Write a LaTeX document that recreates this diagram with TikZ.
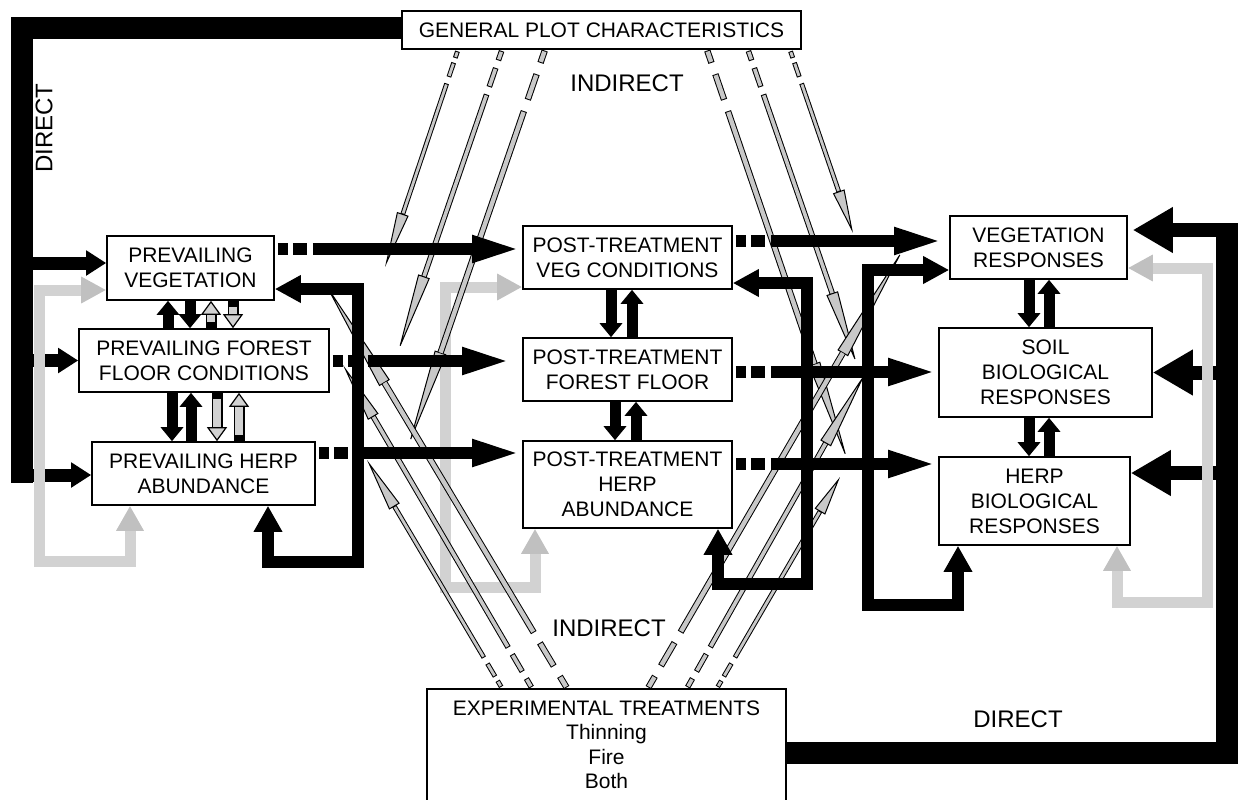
\documentclass[tikz,border=0pt]{standalone}
\usepackage{fontspec}
\setmainfont{Liberation Sans}
\usetikzlibrary{arrows.meta}
\definecolor{lgrey}{RGB}{210,210,210}
\definecolor{hgrey}{RGB}{192,192,192}
\definecolor{fgrey}{RGB}{200,200,200}

\begin{document}
\begin{tikzpicture}[x=0.5pt,y=-0.5pt,line join=miter,
    box/.style={draw,line width=0.8pt,inner sep=0pt,align=center,font=\fontsize{10.5}{12.5}\selectfont},
    lbl/.style={inner sep=0pt,font=\fontsize{12}{14}\selectfont},
    direct/.style={line width=11pt},
    branch/.style={line width=6.5pt,-{Triangle[length=10pt,width=12pt]}},
    rbranch/.style={line width=7pt,-{Triangle[length=20pt,width=21.5pt]}},
    dasharr/.style={line width=6pt,shorten <=1.5pt,-{Triangle[length=25pt,width=12pt]},
      dash pattern=on 5pt off 2.5pt on 7pt off 3pt on 1000pt off 0pt},
    loopb/.style={line width=6pt,{Triangle[length=13pt,width=13pt]}-{Triangle[length=13pt,width=13.5pt]}},
    loopg/.style={line width=5.5pt,draw=lgrey,
      {Triangle[length=12.5pt,width=12.5pt,color=hgrey]}-{Triangle[length=12.5pt,width=13pt,color=hgrey]}},
    vb/.style={line width=5.5pt,-{Triangle[length=7pt,width=11pt]}},
    vg/.style={line width=5.5pt,-{Triangle[length=7pt,width=10pt,fill=lgrey,line width=.6pt]},
      postaction={draw=lgrey,-,line width=4pt,shorten <=3pt,shorten >=7pt}},
    ind/.style 2 args={line width=#1,line cap=rect,shorten <=2pt,
      -{Triangle[length=#2,width=6pt,fill=fgrey,line width=.5pt]},
      postaction={draw=fgrey,-,line width=#1-1pt,shorten >=#2+1pt}},
    inds/.style={ind={2.4pt}{#1},dash pattern=on 1.1pt off 4.9pt on 5.1pt off 5.9pt on 1000pt off 0pt},
    indm/.style={ind={2.8pt}{#1},dash pattern=on 2.2pt off 6.8pt on 7.2pt off 6.8pt on 1000pt off 0pt},
    indl/.style={ind={3.2pt}{#1},dash pattern=on 3.3pt off 9.2pt on 10.3pt off 9.2pt on 1000pt off 0pt}]

\useasboundingbox (0,0) rectangle (1238,799);

\node[box,minimum width=199.5pt,minimum height=19pt] (g) at (601.5,30) {GENERAL PLOT CHARACTERISTICS};
\node[box,minimum width=83.5pt,minimum height=32pt] (p1) at (190.5,268) {PREVAILING\\VEGETATION};
\node[box,minimum width=125pt,minimum height=31.5pt] (p2) at (204,360.5) {PREVAILING FOREST\\FLOOR CONDITIONS};
\node[box,minimum width=111.5pt,minimum height=31.5pt] (p3) at (203.5,473.5) {PREVAILING HERP\\ABUNDANCE};
\node[box,minimum width=104.5pt,minimum height=31.5pt] (t1) at (627.5,257.5) {POST-TREATMENT\\VEG CONDITIONS};
\node[box,minimum width=104.5pt,minimum height=31.5pt] (t2) at (627.5,369.5) {POST-TREATMENT\\FOREST FLOOR};
\node[box,minimum width=104.5pt,minimum height=43.5pt] (t3) at (627.5,484.5) {POST-TREATMENT\\HERP\\ABUNDANCE};
\node[box,minimum width=88.5pt,minimum height=31.5pt] (r1) at (1038.5,247.5) {VEGETATION\\RESPONSES};
\node[box,minimum width=106.5pt,minimum height=44.5pt] (r2) at (1045.5,372.5) {SOIL\\BIOLOGICAL\\RESPONSES};
\node[box,minimum width=95.5pt,minimum height=44pt] (r3) at (1034.5,501) {HERP\\BIOLOGICAL\\RESPONSES};
\node[box,minimum width=179.5pt,minimum height=65pt] (e) at (606.5,754) {};
\node[anchor=north,inner sep=0pt,align=center,font=\fontsize{10.5}{12.3}\selectfont] (et) at (606.5,700)
  {EXPERIMENTAL TREATMENTS\\Thinning\\Fire\\Both};

\node[lbl,rotate=90] (ld1) at (44,128) {DIRECT};
\node[lbl] (ld2) at (1018,719) {DIRECT};
\node[lbl] (li1) at (627,83) {INDIRECT};
\node[lbl] (li2) at (609,628) {INDIRECT};

\coordinate (dl) at (21.5,483);
\coordinate (dr) at (1227,223);
\coordinate (i1) at (385,267);
\coordinate (i2) at (398,352);
\coordinate (i3) at (408,447);
\coordinate (i4) at (848,462);
\coordinate (i5) at (857,365);
\coordinate (i6) at (853,233);
\coordinate (i7) at (367,460);
\coordinate (i8) at (343,365);
\coordinate (i9) at (323,280);
\coordinate (i10) at (905,246);
\coordinate (i11) at (866,372);
\coordinate (i12) at (840,477);

\draw[direct] (g.west |- 0,28) -| (dl);
\draw[direct] (e.east |- 0,753) -| (dr);
\draw[branch] (dl |- 0,263) -- (p1.west |- 0,263);
\draw[branch] (dl |- p2.west) -- (p2.west);
\draw[branch] (dl |- 0,475) -- (p3.west |- 0,475);
\draw[rbranch,shorten >=2.5pt] (dr |- 0,230) -- (r1.east |- 0,230);
\draw[rbranch] (dr |- r2.east) -- (r2.east);
\draw[rbranch] (dr |- 0,473) -- (r3.east |- 0,473);

\draw[loopg] (p1.west |- 0,290) -| (39,561) -| (p3.south -| 130,0);
\draw[loopg] (t1.west |- 0,287) -| (445,587) -| (t3.south -| 535,0);
\draw[loopg] (r1.east |- 0,268) -| (1207,602) -| (r3.south -| 1117,0);

\draw[inds={28pt}] (458,0 |- g.south) -- (i1);
\draw[indm={40pt}] (502,0 |- g.south) -- (i2);
\draw[indl={50pt}] (545,0 |- g.south) -- (i3);
\draw[indl={52pt}] (707,0 |- g.south) -- (i4);
\draw[indm={38pt}] (748,0 |- g.south) -- (i5);
\draw[inds={22pt}] (790,0 |- g.south) -- (i6);
\draw[inds={27pt}] (502,0 |- e.north) -- (i7);
\draw[indm={30pt}] (532,0 |- e.north) -- (i8);
\draw[indl={60pt}] (567,0 |- e.north) -- (i9);
\draw[indl={62pt}] (648,0 |- e.north) -- (i10);
\draw[indm={41pt}] (687,0 |- e.north) -- (i11);
\draw[inds={20pt}] (717,0 |- e.north) -- (i12);

\draw[dasharr] (p1.east |- 0,249) -- (t1.west |- 0,249);
\draw[dasharr,shorten >=5pt] (p2.east |- 0,361) -- (t2.west |- 0,361);
\draw[dasharr] (p3.east |- 0,453) -- (t3.west |- 0,453);
\draw[dasharr,shorten >=2.5pt] (t1.east |- 0,241) -- (r1.west |- 0,241);
\draw[dasharr] (t2.east |- 0,372) -- (r2.west |- 0,372);
\draw[dasharr] (t3.east |- 0,464) -- (r3.west |- 0,464);

\draw[loopb] (p1.east |- 0,289) -| (358,562) -| (p3.south -| 268,0);
\draw[loopb] (t1.east |- 0,283) -| (807,584) -| (t3.south -| 718,0);
\draw[loopb] (r1.west |- 0,270) -| (868,605) -| (r3.south -| 958,0);

\draw[vb] (168,0 |- p2.north) -- (168,0 |- p1.south);
\draw[vb] (190,0 |- p1.south) -- (190,0 |- p2.north);
\draw[vg] (211,0 |- p2.north) -- (211,0 |- p1.south);
\draw[vg] (233,0 |- p1.south) -- (233,0 |- p2.north);
\draw[vb] (172,0 |- p2.south) -- (172,0 |- p3.north);
\draw[vb] (191,0 |- p3.north) -- (191,0 |- p2.south);
\draw[vg] (217,0 |- p2.south) -- (217,0 |- p3.north);
\draw[vg] (239,0 |- p3.north) -- (239,0 |- p2.south);
\draw[vb] (611,0 |- t1.south) -- (611,0 |- t2.north);
\draw[vb] (632,0 |- t2.north) -- (632,0 |- t1.south);
\draw[vb] (615,0 |- t2.south) -- (615,0 |- t3.north);
\draw[vb] (636,0 |- t3.north) -- (636,0 |- t2.south);
\draw[vb] (1029,0 |- r1.south) -- (1029,0 |- r2.north);
\draw[vb] (1049,0 |- r2.north) -- (1049,0 |- r1.south);
\draw[vb] (1029,0 |- r2.south) -- (1029,0 |- r3.north);
\draw[vb] (1049,0 |- r3.north) -- (1049,0 |- r2.south);

\end{tikzpicture}
\end{document}
